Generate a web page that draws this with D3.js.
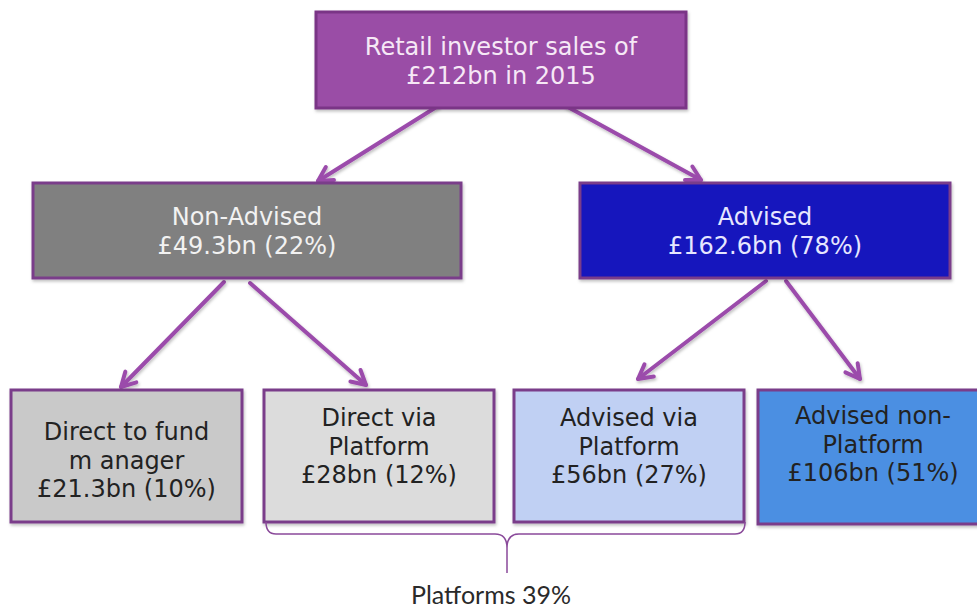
<!DOCTYPE html>
<html lang="en">
<head>
    <meta charset="UTF-8">
    <title>Retail investor sales 2015</title>
    <style>
        body,
        html {
            margin: 0;
            padding: 0;
            background: #fff;
        }
    </style>
    <script src="https://d3js.org/d3.v7.min.js"></script>
</head>
<body>
<div id="chart"></div>
<script>
    (function () {
        // data
        const names = ['top', 'nonAdvised', 'advised', 'directFund', 'directPlatform', 'advisedPlatform', 'advisedNon'];
        const labels = [
            ['Retail investor sales of', '£212bn in 2015'],
            ['Non-Advised', '£49.3bn (22%)'],
            ['Advised', '£162.6bn (78%)'],
            ['Direct to fund', 'm anager', '£21.3bn (10%)'],
            ['Direct via', 'Platform', '£28bn (12%)'],
            ['Advised via', 'Platform', '£56bn (27%)'],
            ['Advised non-', 'Platform', '£106bn (51%)']
        ];
        const valuesBn = [212, 49.3, 162.6, 21.3, 28, 56, 106];
        const parents = [null, 'top', 'top', 'nonAdvised', 'nonAdvised', 'advised', 'advised'];
        const platformNodes = ['directPlatform', 'advisedPlatform'];
        const platformLabel = 'Platforms 39%';

        // layout (pixels)
        const boxX = [316, 33, 580, 11, 264, 514, 758];
        const boxW = [370, 428, 370, 231, 230, 230, 230];
        const boxY = [12, 183, 183, 390, 390, 390, 390];
        const boxH = [96, 95, 95, 132, 132, 132, 134];
        const fills = ['#9a4ea6', '#808080', '#1313bd', '#c9c9c9', '#dcdcdc', '#c0d0f3', '#4b8fe2'];
        const textFill = ['#f6e8f6', '#f2f2f2', '#e6e6ff', '#222', '#222', '#222', '#222'];
        const textTop = [47, 217, 217, 432, 418, 418, 416];
        // arrow start / end per child
        const arrowFrom = {nonAdvised: [438, 106], advised: [566, 106], directFund: [224, 282], directPlatform: [250, 283], advisedPlatform: [766, 281], advisedNon: [786, 281]};
        const arrowTo = {nonAdvised: [318, 181], advised: [701, 180], directFund: [121, 387], directPlatform: [366, 385], advisedPlatform: [638, 379], advisedNon: [860, 379]};

        const width = 977, height = 611;
        const svg = d3.select('#chart').append('svg')
            .attr('width', width).attr('height', height)
            .style('font-family', 'DejaVu Sans, Verdana, sans-serif');

        const defs = svg.append('defs');
        const f = defs.append('filter').attr('id', 'shadow')
            .attr('x', '-20%').attr('y', '-20%').attr('width', '140%').attr('height', '140%');
        f.append('feDropShadow').attr('dx', 1).attr('dy', 2).attr('stdDeviation', 1.5)
            .attr('flood-color', '#000').attr('flood-opacity', 0.25);

        const nodes = names.map((n, i) => ({
            name: n, lines: labels[i], value: valuesBn[i], parent: parents[i],
            x: boxX[i], y: boxY[i], w: boxW[i], h: boxH[i],
            fill: fills[i], tc: textFill[i], ty: textTop[i]
        }));

        // arrows
        const arrowColor = '#9b4cab';
        const links = nodes.filter(d => d.parent);
        const ag = svg.append('g').attr('filter', 'url(#shadow)');
        links.forEach(d => {
            const a = arrowFrom[d.name], b = arrowTo[d.name];
            ag.append('line')
                .attr('x1', a[0]).attr('y1', a[1]).attr('x2', b[0]).attr('y2', b[1])
                .attr('stroke', arrowColor).attr('stroke-width', 4).attr('stroke-linecap', 'round');
            const ang = Math.atan2(b[1] - a[1], b[0] - a[0]);
            const L = 16, spread = 0.5;
            const p1 = [b[0] - L * Math.cos(ang - spread), b[1] - L * Math.sin(ang - spread)];
            const p2 = [b[0] - L * Math.cos(ang + spread), b[1] - L * Math.sin(ang + spread)];
            ag.append('path')
                .attr('d', d3.line()([p1, b, p2]))
                .attr('fill', 'none').attr('stroke', arrowColor).attr('stroke-width', 4)
                .attr('stroke-linecap', 'round').attr('stroke-linejoin', 'round');
        });

        // boxes
        const g = svg.selectAll('g.node').data(nodes).enter().append('g').attr('class', 'node');
        g.append('rect')
            .attr('x', d => d.x).attr('y', d => d.y)
            .attr('width', d => d.w).attr('height', d => d.h)
            .attr('fill', d => d.fill)
            .attr('stroke', d => d.name === 'top' ? '#7a3586' : '#7a3d8a')
            .attr('stroke-width', 3)
            .attr('filter', 'url(#shadow)');
        g.each(function (d) {
            const t = d3.select(this).append('text')
                .attr('text-anchor', 'middle')
                .attr('fill', d.tc)
                .style('font-size', '24px');
            d.lines.forEach((line, j) => {
                t.append('tspan')
                    .attr('x', d.x + d.w / 2)
                    .attr('y', d.ty + j * 28.5)
                    .attr('dy', '0.35em')
                    .text(line);
            });
        });

        // brace under platform boxes
        const pn = nodes.filter(d => platformNodes.includes(d.name));
        const bx0 = pn[0].x + 2, bx1 = pn[1].x + pn[1].w + 1;
        const bTop = 522, bMid = 534, bTip = 573, bc = 507;
        const brace = d3.path();
        brace.moveTo(bx0, bTop);
        brace.quadraticCurveTo(bx0, bMid, bx0 + 10, bMid);
        brace.lineTo(bc - 12, bMid);
        brace.quadraticCurveTo(bc, bMid, bc, bMid + 14);
        brace.lineTo(bc, bTip);
        brace.moveTo(bc, bMid + 14);
        brace.quadraticCurveTo(bc, bMid, bc + 12, bMid);
        brace.lineTo(bx1 - 10, bMid);
        brace.quadraticCurveTo(bx1, bMid, bx1, bTop);
        svg.append('path').attr('d', brace.toString())
            .attr('fill', 'none').attr('stroke', '#8a4a9a').attr('stroke-width', 1.5);

        svg.append('text')
            .attr('x', 491).attr('y', 604)
            .attr('text-anchor', 'middle')
            .attr('fill', '#2a2a2a')
            .style('font-family', 'Lato, Open Sans, sans-serif')
            .style('font-size', '25px')
            .text(platformLabel);
    }());
</script>
</body>
</html>
